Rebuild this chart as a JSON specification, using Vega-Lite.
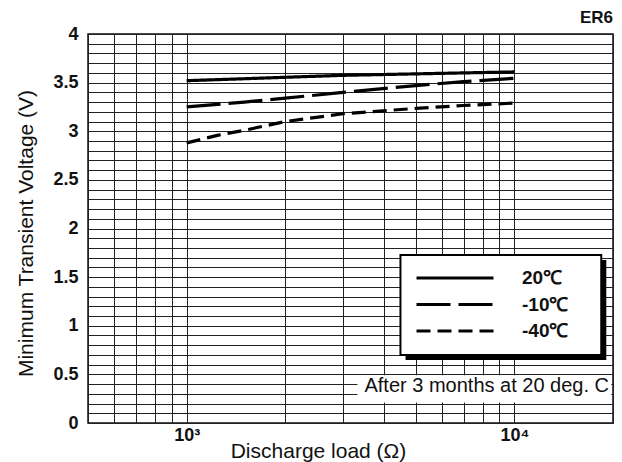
{
  "$schema": "https://vega.github.io/schema/vega-lite/v6.json",
  "width": 525,
  "height": 389,
  "autosize": {"type": "none"},
  "padding": {"left": 88, "top": 34, "right": 9, "bottom": 39},
  "background": "white",
  "title": {
    "text": "ER6",
    "anchor": "end",
    "frame": "group",
    "font": "Liberation Sans",
    "fontSize": 17,
    "fontWeight": "bold",
    "color": "#111",
    "offset": 9,
    "dy": 11
  },
  "datasets": {
    "curves": [
      {"temp": "20℃", "load": 1000, "voltage": 3.52},
      {"temp": "20℃", "load": 1500, "voltage": 3.54},
      {"temp": "20℃", "load": 2000, "voltage": 3.555},
      {"temp": "20℃", "load": 3000, "voltage": 3.575},
      {"temp": "20℃", "load": 5000, "voltage": 3.59},
      {"temp": "20℃", "load": 7000, "voltage": 3.6},
      {"temp": "20℃", "load": 10000, "voltage": 3.61},
      {"temp": "-10℃", "load": 1000, "voltage": 3.25},
      {"temp": "-10℃", "load": 1500, "voltage": 3.3},
      {"temp": "-10℃", "load": 2000, "voltage": 3.34},
      {"temp": "-10℃", "load": 3000, "voltage": 3.4},
      {"temp": "-10℃", "load": 5000, "voltage": 3.47},
      {"temp": "-10℃", "load": 7000, "voltage": 3.51},
      {"temp": "-10℃", "load": 10000, "voltage": 3.545},
      {"temp": "-40℃", "load": 1000, "voltage": 2.88},
      {"temp": "-40℃", "load": 1250, "voltage": 2.96},
      {"temp": "-40℃", "load": 1500, "voltage": 3.01},
      {"temp": "-40℃", "load": 2000, "voltage": 3.1},
      {"temp": "-40℃", "load": 3000, "voltage": 3.18},
      {"temp": "-40℃", "load": 5000, "voltage": 3.235},
      {"temp": "-40℃", "load": 7000, "voltage": 3.265},
      {"temp": "-40℃", "load": 10000, "voltage": 3.29}
    ]
  },
  "layer": [
    {
      "data": {"name": "curves"},
      "mark": {"type": "line", "strokeWidth": 3.2, "color": "black", "strokeCap": "butt"},
      "encoding": {
        "x": {
          "field": "load",
          "type": "quantitative",
          "scale": {"type": "log", "domain": [500, 20000], "nice": false},
          "axis": {
            "labelExpr": "datum.value == 1000 ? '10³' : datum.value == 10000 ? '10⁴' : ''",
            "labelOverlap": false,
            "labelFlush": false,
            "labelFont": "Liberation Sans",
            "labelFontSize": 18,
            "labelFontWeight": "bold",
            "labelColor": "#111",
            "labelPadding": 3,
            "title": "Discharge load (Ω)",
            "titleFont": "Liberation Sans",
            "titleFontSize": 21,
            "titleFontWeight": "normal",
            "titleColor": "#111",
            "titleBaseline": "alphabetic",
            "titleX": 230,
            "titleY": 34
          }
        },
        "y": {
          "field": "voltage",
          "type": "quantitative",
          "scale": {"domain": [0, 4], "nice": false, "zero": false},
          "axis": {
            "tickCount": 40,
            "labelExpr": "abs(datum.value * 2 - round(datum.value * 2)) < 0.001 ? format(datum.value, '~g') : ''",
            "labelOverlap": false,
            "labelFlush": false,
            "labelFont": "Liberation Sans",
            "labelFontSize": 18,
            "labelFontWeight": "bold",
            "labelColor": "#111",
            "labelPadding": 10,
            "title": "Minimum Transient Voltage (V)",
            "titleFont": "Liberation Sans",
            "titleFontSize": 21,
            "titleFontWeight": "normal",
            "titleColor": "#111",
            "titleBaseline": "alphabetic",
            "titleX": -56,
            "titleY": 199
          }
        },
        "strokeDash": {
          "field": "temp",
          "type": "nominal",
          "scale": {"domain": ["20℃", "-10℃", "-40℃"], "range": [[1, 0], [34, 8], [14, 7]]},
          "legend": {
            "orient": "none",
            "legendX": 327,
            "legendY": 234,
            "title": null,
            "padding": 0,
            "symbolType": "stroke",
            "symbolSize": 5929,
            "symbolStrokeWidth": 3,
            "symbolStrokeColor": "black",
            "clipHeight": 20,
            "rowPadding": 6.5,
            "labelOffset": 27,
            "labelFont": "Liberation Sans",
            "labelFontSize": 19,
            "labelFontWeight": "bold",
            "labelColor": "#111"
          }
        }
      }
    },
    {
      "data": {"values": [{}]},
      "mark": {"type": "rect", "color": "black"},
      "encoding": {
        "x": {"datum": 4655, "type": "quantitative"},
        "x2": {"datum": 19080},
        "y": {"datum": 1.676, "type": "quantitative"},
        "y2": {"datum": 0.648}
      }
    },
    {
      "data": {"values": [{}]},
      "mark": {"type": "rect", "fill": "white", "stroke": "black", "strokeWidth": 2},
      "encoding": {
        "x": {"datum": 4492, "type": "quantitative"},
        "x2": {"datum": 18415},
        "y": {"datum": 1.7275, "type": "quantitative"},
        "y2": {"datum": 0.699}
      }
    },
    {
      "data": {"values": [{}]},
      "mark": {"type": "rect", "fill": "white"},
      "encoding": {
        "x": {"datum": 3321, "type": "quantitative"},
        "x2": {"datum": 19760},
        "y": {"datum": 0.49, "type": "quantitative"},
        "y2": {"datum": 0.21}
      }
    },
    {
      "data": {"values": [{}]},
      "mark": {
        "type": "text",
        "text": "After 3 months at 20 deg. C",
        "align": "left",
        "baseline": "middle",
        "font": "Liberation Sans",
        "fontSize": 20,
        "color": "#111"
      },
      "encoding": {
        "x": {"datum": 3488, "type": "quantitative"},
        "y": {"datum": 0.385, "type": "quantitative"}
      }
    }
  ],
  "config": {
    "view": {"stroke": "#111", "strokeWidth": 1.5},
    "axis": {
      "grid": true,
      "gridColor": "#222",
      "gridOpacity": 1,
      "gridWidth": 1,
      "domain": false,
      "ticks": false
    }
  }
}
